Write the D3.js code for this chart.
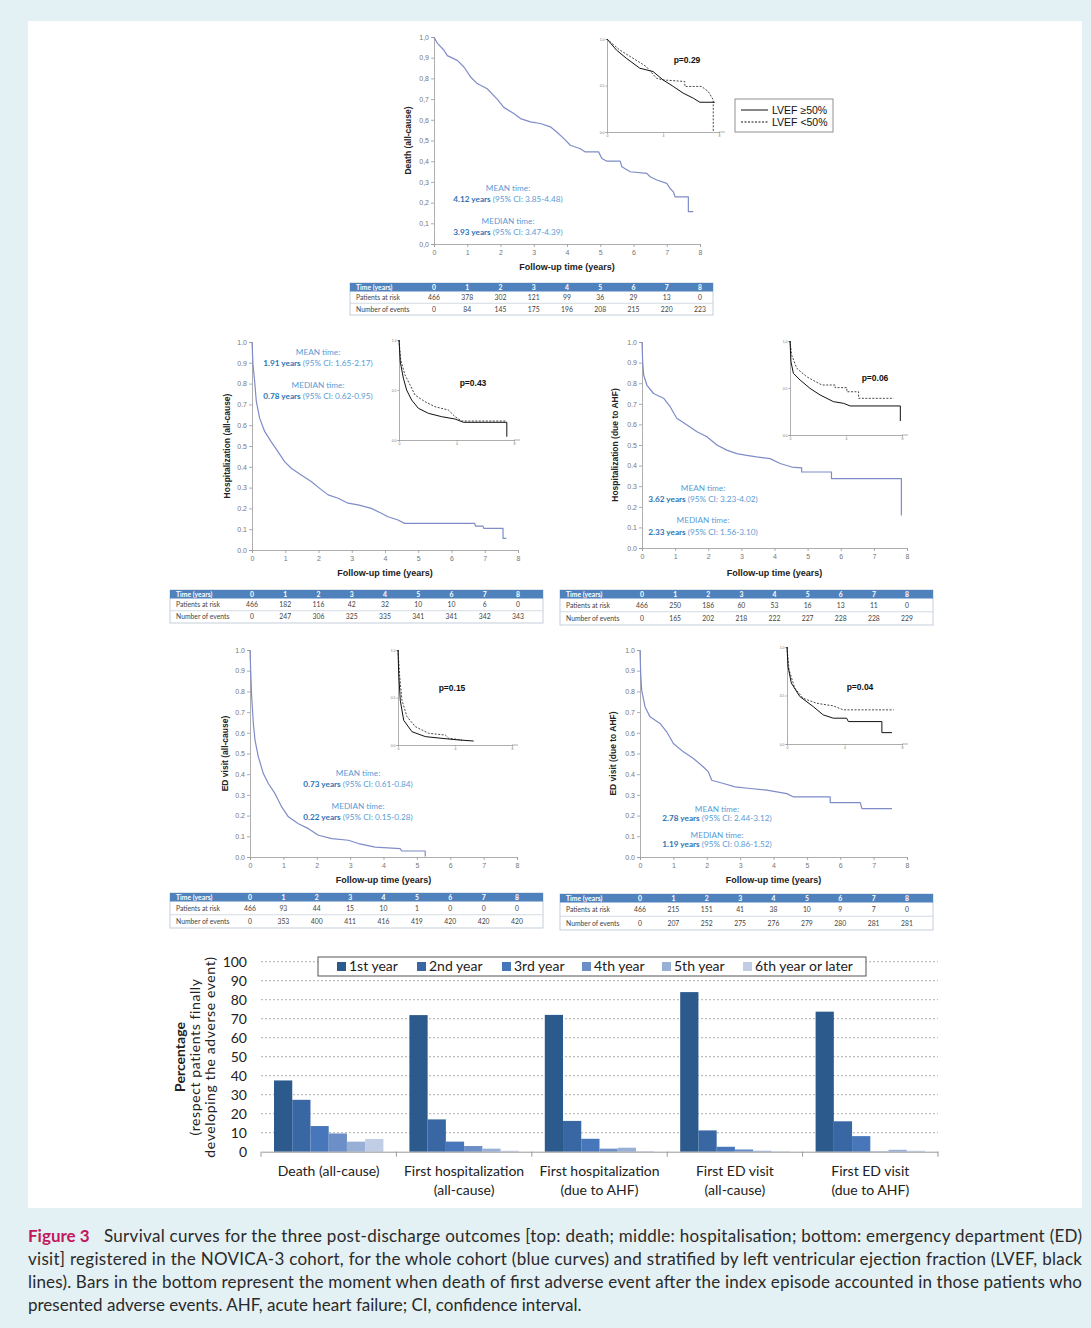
<!DOCTYPE html>
<html>
<head>
<meta charset="utf-8">
<script src="https://cdn.jsdelivr.net/npm/d3@7"></script>
<style>
  body { margin: 0; background: #e3f0f4; }
  svg { display: block; }
</style>
</head>
<body>
<svg id="fig" width="1091" height="1328"></svg>
<script>
// ---- Kaplan-Meier curves, whole cohort: [years, survival] ----
const deathCurve = [[0,1],[0.1,0.97],[0.3,0.936],[0.4,0.91],[0.7,0.887],[0.9,0.855],[1.1,0.807],[1.3,0.775],[1.6,0.75],[1.9,0.70],[2.1,0.66],[2.4,0.63],[2.6,0.606],[2.9,0.59],[3.2,0.582],[3.5,0.566],[3.7,0.54],[3.9,0.51],[4.1,0.477],[4.4,0.46],[4.55,0.445],[4.95,0.445],[5.05,0.413],[5.2,0.40],[5.6,0.40],[5.65,0.373],[5.9,0.349],[6.4,0.341],[6.5,0.325],[6.7,0.309],[7.0,0.293],[7.1,0.268],[7.2,0.252],[7.25,0.228],[7.65,0.228],[7.65,0.156],[7.8,0.156]];
const hospAllCurve = [[0,1],[0.03,0.89],[0.08,0.81],[0.13,0.714],[0.23,0.634],[0.38,0.57],[0.58,0.52],[0.78,0.473],[0.98,0.425],[1.18,0.393],[1.48,0.361],[1.78,0.329],[2.09,0.289],[2.29,0.265],[2.59,0.249],[2.89,0.225],[3.19,0.217],[3.59,0.2],[3.89,0.177],[4.09,0.16],[4.39,0.144],[4.59,0.128],[6.7,0.128],[6.72,0.115],[6.95,0.115],[6.97,0.104],[7.55,0.104],[7.55,0.056],[7.65,0.056]];
const hospAhfCurve = [[0,1],[0.02,0.906],[0.05,0.84],[0.15,0.79],[0.35,0.75],[0.65,0.727],[0.85,0.686],[1.05,0.63],[1.36,0.597],[1.66,0.564],[1.96,0.54],[2.26,0.5],[2.56,0.475],[2.86,0.458],[3.16,0.45],[3.46,0.442],[3.87,0.434],[4.17,0.41],[4.52,0.393],[4.82,0.389],[4.82,0.369],[5.72,0.369],[5.72,0.337],[7.83,0.337],[7.83,0.158]];
const edAllCurve = [[0,1],[0.02,0.903],[0.05,0.774],[0.1,0.645],[0.15,0.565],[0.25,0.484],[0.4,0.403],[0.55,0.355],[0.75,0.306],[0.95,0.242],[1.15,0.194],[1.45,0.161],[1.75,0.137],[2.05,0.105],[2.45,0.089],[2.95,0.081],[3.25,0.065],[3.75,0.048],[4.5,0.04],[4.55,0.029],[5.25,0.029],[5.25,0.003]];
const edAhfCurve = [[0,1],[0.02,0.887],[0.05,0.806],[0.15,0.726],[0.3,0.677],[0.6,0.645],[0.8,0.605],[1.0,0.548],[1.3,0.508],[1.6,0.476],[1.9,0.435],[2.05,0.411],[2.15,0.371],[2.5,0.355],[2.85,0.339],[3.3,0.331],[3.8,0.323],[4.1,0.315],[4.4,0.306],[4.6,0.29],[5.7,0.29],[5.7,0.263],[6.6,0.263],[6.65,0.234],[7.55,0.234]];

// ---- inset curves by LVEF: solid = LVEF >=50%, dotted = LVEF <50% ----
const deathHigh = [[0,1],[0.67,0.882],[1.38,0.793],[2.34,0.686],[3.29,0.65],[4.0,0.56],[4.73,0.49],[5.44,0.418],[6.16,0.364],[6.63,0.32],[7.7,0.32]];
const deathLow = [[0,1],[0.9,0.882],[1.86,0.793],[2.8,0.704],[3.53,0.579],[4.0,0.56],[5.56,0.543],[5.56,0.49],[6.75,0.49],[7.23,0.436],[7.59,0.346],[7.59,0]];
const hospAllHigh = [[0,1],[0.09,0.78],[0.3,0.62],[0.53,0.5],[0.88,0.4],[1.35,0.317],[2.04,0.267],[2.97,0.233],[3.9,0.21],[4.48,0.177],[7.5,0.177],[7.5,0.033]];
const hospAllLow = [[0,1],[0.12,0.8],[0.42,0.65],[0.77,0.55],[1.11,0.45],[1.81,0.383],[2.5,0.333],[3.43,0.3],[3.9,0.233],[4.36,0.19],[7.4,0.19]];
const hospAhfHigh = [[0,1],[0.07,0.78],[0.24,0.656],[0.72,0.585],[1.43,0.496],[2.15,0.426],[3.1,0.355],[3.82,0.337],[4.3,0.309],[7.88,0.309],[7.88,0.149]];
const hospAhfLow = [[0,1],[0.12,0.85],[0.48,0.71],[1.19,0.62],[2.27,0.532],[3.22,0.532],[3.22,0.504],[4.06,0.504],[4.06,0.46],[4.9,0.46],[4.9,0.39],[7.4,0.39]];
const edAllHigh = [[0,1],[0.05,0.75],[0.16,0.47],[0.4,0.26],[0.98,0.14],[1.92,0.088],[3.09,0.07],[4.26,0.053],[5.31,0.042]];
const edAllLow = [[0,1],[0.12,0.72],[0.28,0.47],[0.63,0.298],[1.22,0.193],[2.15,0.123],[3.32,0.105],[3.56,0.07],[4.5,0.053]];
const edAhfHigh = [[0,1],[0.07,0.8],[0.3,0.628],[0.89,0.49],[1.82,0.386],[2.52,0.3],[3.22,0.266],[4.15,0.266],[4.27,0.231],[6.6,0.231],[6.6,0.117],[7.3,0.117]];
const edAhfLow = [[0,1],[0.14,0.766],[0.54,0.576],[1.12,0.472],[2.05,0.42],[3.22,0.393],[3.92,0.352],[7.42,0.352]];

const yTitles = ['Death (all-cause)', 'Hospitalization (all-cause)', 'Hospitalization (due to AHF)', 'ED visit (all-cause)', 'ED visit (due to AHF)'];
const pValues = ['p=0.29', 'p=0.43', 'p=0.06', 'p=0.15', 'p=0.04'];
const meanYears = ['4.12', '1.91', '3.62', '0.73', '2.78'];
const meanCI = ['3.85-4.48', '1.65-2.17', '3.23-4.02', '0.61-0.84', '2.44-3.12'];
const medianYears = ['3.93', '0.78', '2.33', '0.22', '1.19'];
const medianCI = ['3.47-4.39', '0.62-0.95', '1.56-3.10', '0.15-0.28', '0.86-1.52'];

// ---- numbers at risk tables ----
const years = [0, 1, 2, 3, 4, 5, 6, 7, 8];
const deathRisk = [466, 378, 302, 121, 99, 36, 29, 13, 0];
const deathEvents = [0, 84, 145, 175, 196, 208, 215, 220, 223];
const hospAllRisk = [466, 182, 116, 42, 32, 10, 10, 6, 0];
const hospAllEvents = [0, 247, 306, 325, 335, 341, 341, 342, 343];
const hospAhfRisk = [466, 250, 186, 60, 53, 16, 13, 11, 0];
const hospAhfEvents = [0, 165, 202, 218, 222, 227, 228, 228, 229];
const edAllRisk = [466, 93, 44, 15, 10, 1, 0, 0, 0];
const edAllEvents = [0, 353, 400, 411, 416, 419, 420, 420, 420];
const edAhfRisk = [466, 215, 151, 41, 38, 10, 9, 7, 0];
const edAhfEvents = [0, 207, 252, 275, 276, 279, 280, 281, 281];

// ---- bar chart ----
const barCategories = [['Death (all-cause)'], ['First hospitalization', '(all-cause)'], ['First hospitalization', '(due to AHF)'], ['First ED visit', '(all-cause)'], ['First ED visit', '(due to AHF)']];
const barSeries = ['1st year', '2nd year', '3rd year', '4th year', '5th year', '6th year or later'];
const year1 = [37.5, 71.9, 72.0, 84.0, 73.7];
const year2 = [27.3, 17.0, 16.2, 11.2, 16.0];
const year3 = [13.5, 5.3, 6.8, 2.6, 8.2];
const year4 = [9.6, 3.0, 1.6, 1.2, 0.2];
const year5 = [5.3, 1.6, 2.1, 0.5, 1.0];
const year6 = [6.7, 0.5, 0.3, 0.2, 0.5];
const barTicks = [0, 10, 20, 30, 40, 50, 60, 70, 80, 90, 100];

const captionLines = [
  'Survival curves for the three post-discharge outcomes [top: death; middle: hospitalisation; bottom: emergency department (ED)',
  'visit] registered in the NOVICA-3 cohort, for the whole cohort (blue curves) and stratified by left ventricular ejection fraction (LVEF, black',
  'lines). Bars in the bottom represent the moment when death of first adverse event after the index episode accounted in those patients who',
  'presented adverse events. AHF, acute heart failure; CI, confidence interval.'
];

// ---- layout ----
const kmLayout = [
  { x0: 434, x1: 700, yt: 37, yb: 244, ytx: 411, xty: 270, comma: true,
    ins: { x0: 607, x1: 719, yt: 39, yb: 132 }, px: 687, py: 63,
    sx: 508, sy: 188, dys: [0, 11, 33, 44], tab: { left: 350, right: 713, top: 283, bottom: 315 } },
  { x0: 252, x1: 518, yt: 342, yb: 550, ytx: 230, xty: 576,
    ins: { x0: 399, x1: 514, yt: 340, yb: 440 }, px: 473, py: 386,
    sx: 318, sy: 352, dys: [0, 11, 33, 44], tab: { left: 170, right: 543, top: 590, bottom: 623 } },
  { x0: 642, x1: 907, yt: 342, yb: 548, ytx: 618, xty: 576,
    ins: { x0: 790, x1: 902, yt: 341, yb: 435 }, px: 875, py: 381,
    sx: 703, sy: 488, dys: [0, 11, 32, 44], tab: { left: 560, right: 933, top: 590, bottom: 625 } },
  { x0: 250, x1: 517, yt: 650, yb: 857, ytx: 228, xty: 883,
    ins: { x0: 398, x1: 512, yt: 650, yb: 745 }, px: 452, py: 691,
    sx: 358, sy: 773, dys: [0, 11, 33, 44], tab: { left: 170, right: 543, top: 893, bottom: 928 } },
  { x0: 640, x1: 907, yt: 650, yb: 857, ytx: 616, xty: 883,
    ins: { x0: 787, x1: 902, yt: 647, yb: 744 }, px: 860, py: 690,
    sx: 717, sy: 809, dys: [0, 9, 26, 35], tab: { left: 560, right: 933, top: 894, bottom: 930 } }
];
const kmCurves = [deathCurve, hospAllCurve, hospAhfCurve, edAllCurve, edAhfCurve];
const kmHigh = [deathHigh, hospAllHigh, hospAhfHigh, edAllHigh, edAhfHigh];
const kmLow = [deathLow, hospAllLow, hospAhfLow, edAllLow, edAhfLow];
const kmRisk = [deathRisk, hospAllRisk, hospAhfRisk, edAllRisk, edAhfRisk];
const kmEvents = [deathEvents, hospAllEvents, hospAhfEvents, edAllEvents, edAhfEvents];

const svg = d3.select('#fig');
const SANS = 'Liberation Sans, Arial, sans-serif';
const SOFT = 'Lato, Open Sans, sans-serif';

svg.append('rect').attr('width', 1091).attr('height', 1328).attr('fill', '#e3f0f4');
svg.append('rect').attr('x', 28).attr('y', 21).attr('width', 1054).attr('height', 1187).attr('fill', '#fff');

function styleAxis (sel, size) {
  sel.select('.domain').attr('stroke', '#999').attr('stroke-width', 0.8);
  sel.selectAll('.tick line').attr('stroke', '#999').attr('stroke-width', 0.8);
  sel.selectAll('.tick text').attr('fill', '#777').style('font-family', SANS).style('font-size', size + 'px');
}

function kmPanel (p, i) {
  const g = svg.append('g');
  const x = d3.scaleLinear().domain([0, 8]).range([p.x0, p.x1]);
  const y = d3.scaleLinear().domain([0, 1]).range([p.yb, p.yt]);
  const fmt = d => d3.format('.1f')(d).replace('.', p.comma ? ',' : '.');

  g.append('g').attr('transform', `translate(${p.x0},0)`)
    .call(d3.axisLeft(y).tickValues(d3.range(0, 11).map(d => d / 10)).tickSize(3).tickPadding(2).tickFormat(fmt))
    .call(styleAxis, 7);
  g.append('g').attr('transform', `translate(0,${p.yb})`)
    .call(d3.axisBottom(x).tickValues(years).tickSize(3).tickPadding(3))
    .call(styleAxis, 7);

  g.append('text')
    .attr('transform', `translate(${p.ytx},${(p.yt + p.yb) / 2}) rotate(-90)`)
    .attr('text-anchor', 'middle')
    .style('font', `bold 8.5px ${SANS}`).attr('fill', '#222')
    .text(yTitles[i]);
  g.append('text')
    .attr('x', (p.x0 + p.x1) / 2).attr('y', p.xty)
    .attr('text-anchor', 'middle')
    .style('font', `bold 9px ${SANS}`).attr('fill', '#222')
    .text('Follow-up time (years)');

  const line = d3.line().x(d => x(d[0])).y(d => y(d[1]));
  g.append('path').datum(kmCurves[i]).attr('d', line)
    .attr('fill', 'none').attr('stroke', '#7f8cc8').attr('stroke-width', 1.2)
    .attr('stroke-linejoin', 'round');

  // mean / median annotation
  const blue = '#5b9bd5';
  const lines = [
    [['MEAN time:', false]],
    [[meanYears[i] + ' years', true], [' (95% CI: ' + meanCI[i] + ')', false]],
    [['MEDIAN time:', false]],
    [[medianYears[i] + ' years', true], [' (95% CI: ' + medianCI[i] + ')', false]]
  ];
  lines.forEach((parts, k) => {
    const t = g.append('text')
      .attr('x', p.sx).attr('y', p.sy + p.dys[k] + 2.7)
      .attr('text-anchor', 'middle')
      .style('font-family', SOFT).style('font-size', '8.2px');
    parts.forEach(([s, bold]) => {
      t.append('tspan').text(s)
        .attr('fill', bold ? '#2e75b6' : blue)
        .style('font-weight', bold ? 'bold' : 'normal');
    });
  });

  // inset by LVEF
  const q = p.ins;
  const ix = d3.scaleLinear().domain([0, 8]).range([q.x0, q.x1]);
  const iy = d3.scaleLinear().domain([0, 1]).range([q.yb, q.yt]);
  g.append('g').attr('transform', `translate(${q.x0},0)`)
    .call(d3.axisLeft(iy).tickValues([0, 0.5, 1]).tickSize(1.5).tickPadding(1).tickFormat(d3.format('.1f')))
    .call(styleAxis, 3.5);
  g.append('g').attr('transform', `translate(0,${q.yb})`)
    .call(d3.axisBottom(ix).tickValues([0, 4, 8]).tickSize(1.5).tickPadding(1))
    .call(styleAxis, 3.5);
  g.append('line').attr('x1', q.x1).attr('x2', q.x1 + 6).attr('y1', q.yb).attr('y2', q.yb)
    .attr('stroke', '#999').attr('stroke-width', 0.8);
  const iline = d3.line().x(d => ix(d[0])).y(d => iy(d[1]));
  g.append('path').datum(kmLow[i]).attr('d', iline)
    .attr('fill', 'none').attr('stroke', '#333').attr('stroke-width', 0.9).attr('stroke-dasharray', '2,1.5');
  g.append('path').datum(kmHigh[i]).attr('d', iline)
    .attr('fill', 'none').attr('stroke', '#111').attr('stroke-width', 1).attr('stroke-linejoin', 'round');
  g.append('text').attr('x', p.px).attr('y', p.py).attr('text-anchor', 'middle')
    .style('font', `bold 8.5px ${SANS}`).attr('fill', '#111').text(pValues[i]);

  riskTable(p.tab, x, kmRisk[i], kmEvents[i]);
}

function riskTable (t, x, risk, events) {
  const g = svg.append('g');
  const hh = 8.5;
  const rh = (t.bottom - t.top - hh) / 2;
  g.append('rect').attr('x', t.left).attr('y', t.top)
    .attr('width', t.right - t.left).attr('height', t.bottom - t.top)
    .attr('fill', '#fff').attr('stroke', '#b5c2cf').attr('stroke-width', 0.8);
  g.append('rect').attr('x', t.left).attr('y', t.top)
    .attr('width', t.right - t.left).attr('height', hh).attr('fill', '#4f81bd');
  g.append('line').attr('x1', t.left).attr('x2', t.right)
    .attr('y1', t.top + hh + rh).attr('y2', t.top + hh + rh)
    .attr('stroke', '#c8d2dc').attr('stroke-width', 0.8);

  const rows = [
    { label: 'Time (years)', vals: years, y: t.top + hh / 2, head: true },
    { label: 'Patients at risk', vals: risk, y: t.top + hh + rh / 2 },
    { label: 'Number of events', vals: events, y: t.top + hh + rh * 1.5 }
  ];
  rows.forEach(r => {
    const fill = r.head ? '#fff' : '#444';
    const font = `${r.head ? 'bold ' : ''}6.8px ${SOFT}`;
    g.append('text').attr('x', t.left + 6).attr('y', r.y).attr('dy', '0.35em')
      .style('font', font).attr('fill', fill).text(r.label);
    g.selectAll(null).data(r.vals).join('text')
      .attr('x', (d, k) => x(years[k])).attr('y', r.y).attr('dy', '0.35em')
      .attr('text-anchor', 'middle')
      .style('font', font).attr('fill', fill).text(d => d);
  });
}

kmLayout.forEach(kmPanel);

// LVEF legend (top panel)
const lg = svg.append('g');
lg.append('rect').attr('x', 735).attr('y', 99).attr('width', 98).attr('height', 33)
  .attr('fill', '#fff').attr('stroke', '#777').attr('stroke-width', 0.8);
[['LVEF \u226550%', null], ['LVEF <50%', '2,1.5']].forEach(([label, dash], k) => {
  const yy = 110 + k * 12;
  lg.append('line').attr('x1', 741).attr('x2', 768).attr('y1', yy).attr('y2', yy)
    .attr('stroke', '#111').attr('stroke-width', 1).attr('stroke-dasharray', dash);
  lg.append('text').attr('x', 772).attr('y', yy).attr('dy', '0.35em')
    .style('font', `10.5px ${SANS}`).attr('fill', '#111').text(label);
});

// ---- bar chart ----
const bc = { left: 261, right: 938, top: 961.7, bottom: 1151.7 };
const barValues = [year1, year2, year3, year4, year5, year6];
const barColors = ['#2d5a8c', '#3867a4', '#4777ba', '#6b8fc6', '#98b0d6', '#c0cde5'];
const xb = d3.scaleBand().domain(d3.range(barCategories.length)).range([bc.left, bc.right]);
const xs = d3.scaleBand().domain(barSeries).range([13, xb.bandwidth() - 13]);
const yb = d3.scaleLinear().domain([0, 100]).range([bc.bottom, bc.top]);
const bg = svg.append('g');

bg.selectAll('.grid').data(barTicks.filter(d => d > 0)).join('line')
  .attr('x1', bc.left).attr('x2', bc.right)
  .attr('y1', d => yb(d)).attr('y2', d => yb(d))
  .attr('stroke', '#9a9a9a').attr('stroke-width', 0.8).attr('stroke-dasharray', '2,2');
bg.append('g').attr('transform', `translate(${bc.left - 14},0)`)
  .call(d3.axisLeft(yb).tickValues(barTicks).tickSize(0).tickPadding(0))
  .call(sel => sel.select('.domain').remove())
  .call(sel => sel.selectAll('text').attr('fill', '#222').style('font', `14px ${SOFT}`));

barSeries.forEach((s, si) => {
  bg.selectAll(null).data(barValues[si]).join('rect')
    .attr('x', (d, ci) => xb(ci) + xs(s))
    .attr('width', xs.bandwidth())
    .attr('y', d => yb(d))
    .attr('height', d => yb(0) - yb(d))
    .attr('fill', barColors[si]);
});

bg.append('g').attr('transform', `translate(0,${bc.bottom})`)
  .call(d3.axisBottom(xb).tickSize(0).tickFormat(''))
  .call(sel => sel.select('.domain').attr('stroke', '#999').attr('stroke-width', 1));
bg.selectAll('.catTick').data(d3.range(barCategories.length + 1)).join('line')
  .attr('x1', d => bc.left + d * xb.step()).attr('x2', d => bc.left + d * xb.step())
  .attr('y1', bc.bottom).attr('y2', bc.bottom + 5).attr('stroke', '#999');

barCategories.forEach((lab, ci) => {
  const t = bg.append('text').attr('text-anchor', 'middle')
    .style('font', `14px ${SOFT}`).attr('fill', '#222');
  lab.forEach((s, k) => {
    t.append('tspan').attr('x', xb(ci) + xb.bandwidth() / 2).attr('y', 1176 + k * 19).text(s);
  });
});

const yTitle = bg.append('text')
  .attr('transform', 'translate(0,1057) rotate(-90)')
  .attr('text-anchor', 'middle').attr('fill', '#222')
  .style('font-family', SOFT).style('font-size', '14px');
[['Percentage', 185, true], ['(respect patients finally', 200, false], ['developing the adverse event)', 215, false]]
  .forEach(([s, yy, bold]) => {
    yTitle.append('tspan').attr('x', 0).attr('y', yy).text(s)
      .style('font-weight', bold ? 'bold' : 'normal')
      .style('letter-spacing', bold ? '0' : '0.6px');
  });

// bar legend
const legendX = [337, 417, 502, 582, 662, 743];
bg.append('rect').attr('x', 318).attr('y', 957).attr('width', 548).attr('height', 19)
  .attr('fill', '#fff').attr('stroke', '#555').attr('stroke-width', 1);
barSeries.forEach((s, si) => {
  bg.append('rect').attr('x', legendX[si]).attr('y', 962).attr('width', 9).attr('height', 9)
    .attr('fill', barColors[si]);
  bg.append('text').attr('x', legendX[si] + 12).attr('y', 966.5).attr('dy', '0.35em')
    .style('font', `14px ${SOFT}`).attr('fill', '#222').text(s);
});

// ---- caption ----
svg.append('text').attr('x', 28).attr('y', 1242)
  .style('font', `bold 17px ${SOFT}`).attr('fill', '#c2185b').text('Figure 3');
captionLines.forEach((s, k) => {
  const x0 = k === 0 ? 104 : 28;
  const t = svg.append('text').attr('x', x0).attr('y', 1242 + k * 23)
    .style('font', `17px ${SOFT}`).attr('fill', '#2a2a2a').text(s);
  if (k < captionLines.length - 1) {
    t.attr('textLength', 1082 - x0).attr('lengthAdjust', 'spacing');
  }
});
</script>
</body>
</html>
